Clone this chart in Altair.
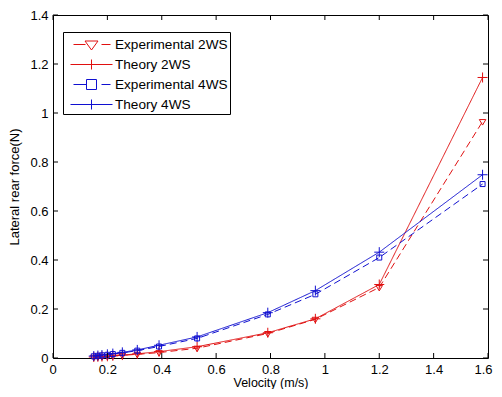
import altair as alt
import pandas as pd

# ---------------- data ----------------
velocity = [0.15, 0.165, 0.18, 0.20, 0.22, 0.255, 0.31, 0.39, 0.53, 0.79, 0.965, 1.20, 1.58]
exp_2ws = [0.003, 0.004, 0.005, 0.006, 0.008, 0.011, 0.015, 0.022, 0.040, 0.100, 0.158, 0.288, 0.965]
theory_2ws = [0.004, 0.005, 0.006, 0.007, 0.009, 0.012, 0.017, 0.026, 0.046, 0.103, 0.160, 0.300, 1.145]
exp_4ws = [0.007, 0.009, 0.011, 0.013, 0.016, 0.021, 0.030, 0.047, 0.080, 0.178, 0.260, 0.410, 0.710]
theory_4ws = [0.008, 0.010, 0.012, 0.015, 0.018, 0.023, 0.033, 0.052, 0.086, 0.185, 0.275, 0.432, 0.748]

series_names = ["Experimental 2WS", "Theory 2WS", "Experimental 4WS", "Theory 4WS"]
x_ticks = [0, 0.2, 0.4, 0.6, 0.8, 1.0, 1.2, 1.4, 1.6]
y_ticks = [0, 0.2, 0.4, 0.6, 0.8, 1.0, 1.2, 1.4]

# ---------------- styles ----------------
RED = "#e01010"
BLUE = "#1010d0"
colors = [RED, RED, BLUE, BLUE]
dashes = [[7, 4], [1, 0], [7, 4], [1, 0]]
TRI = "M-0.65,-0.4L0.65,-0.4L0,0.7Z"
PLUS = "M-1,0L1,0M0,-1L0,1"
SQ = "M-0.5,-0.5L0.5,-0.5L0.5,0.5L-0.5,0.5Z"
marker_paths = [TRI, PLUS, SQ, PLUS]
# legend symbols: line sample + marker (units of half the symbol size)
leg_tri = "M-1.8,0L-0.6,0M1.0,0L1.9,0M-0.65,-0.35L0.65,-0.35L0,0.55Z"
leg_plus = "M-2.1,0L2.1,0M0,-0.5L0,0.5"
leg_sq = "M-1.8,0L-0.5,0M1.0,0L1.9,0M-0.5,-0.5L0.5,-0.5L0.5,0.5L-0.5,0.5Z"
legend_paths = [leg_tri, leg_plus, leg_sq, leg_plus]

FONT = "Liberation Sans"

rows = []
for name, vals in zip(series_names, [exp_2ws, theory_2ws, exp_4ws, theory_4ws]):
    for v, f in zip(velocity, vals):
        rows.append({"v": v, "f": f, "series": name})
df = pd.DataFrame(rows)

xt = pd.DataFrame({"t": x_ticks})
yt = pd.DataFrame({"t": y_ticks})

x_scale = alt.Scale(domain=[0, 1.6], nice=False, zero=False)
y_scale = alt.Scale(domain=[0, 1.4], nice=False, zero=False)
color_scale = alt.Scale(domain=series_names, range=colors)

x_axis = alt.Axis(values=x_ticks, title="Velocity (m/s)", ticks=False, domain=False,
                  grid=False, labelFont=FONT, labelFontSize=13, labelColor="#000",
                  titleFont=FONT, titleFontSize=12.5, titleFontWeight="normal",
                  titleColor="#000", labelPadding=5, titlePadding=0,
                  labelExpr="format(datum.value, '.1~f')", labelFlush=True,
                  labelFlushOffset=4)
y_axis = alt.Axis(values=y_ticks, title="Lateral rear force(N)", ticks=False, domain=False,
                  grid=False, labelFont=FONT, labelFontSize=13, labelColor="#000",
                  titleFont=FONT, titleFontSize=13, titleFontWeight="normal",
                  titleColor="#000", labelPadding=5, titlePadding=8,
                  labelExpr="format(datum.value, '.1~f')", labelFlush=False)

X = alt.X("v:Q", scale=x_scale, axis=x_axis)
Y = alt.Y("f:Q", scale=y_scale, axis=y_axis)

base = alt.Chart(df)

lines = base.mark_line(strokeWidth=1, clip=True).encode(
    x=X, y=Y,
    color=alt.Color("series:N", scale=color_scale, legend=None),
    strokeDash=alt.StrokeDash("series:N", scale=alt.Scale(domain=series_names, range=dashes), legend=None),
    detail="series:N",
)

points = base.mark_point(filled=False, strokeWidth=1, size=100, opacity=1).encode(
    x=X, y=Y,
    color=alt.Color("series:N", scale=color_scale, legend=None),
    shape=alt.Shape("series:N", scale=alt.Scale(domain=series_names, range=marker_paths), legend=None),
)

leg = alt.Legend(orient="none", legendX=10, legendY=17, title=None, strokeColor="black",
                 fillColor="white", padding=2, symbolSize=400, symbolStrokeWidth=1,
                 labelFont=FONT, labelFontSize=13.6, labelColor="#000", symbolOffset=16,
                 labelOffset=13, rowPadding=2, labelLimit=0)

legend_layer = base.transform_filter("datum.v < 0").mark_point(filled=False, strokeWidth=1, opacity=1).encode(
    x=X, y=Y,
    color=alt.Color("series:N", scale=color_scale, legend=leg),
    shape=alt.Shape("series:N", scale=alt.Scale(domain=series_names, range=legend_paths), legend=leg),
)

# inward MATLAB-style ticks on all four sides
tk = "#000"
XT = alt.X("t:Q", scale=x_scale, axis=x_axis)
YT = alt.Y("t:Q", scale=y_scale, axis=y_axis)
bottom_ticks = alt.Chart(xt).mark_rule(color=tk, strokeWidth=1).encode(
    x=XT, y=alt.value(343), y2=alt.value(338))
top_ticks = alt.Chart(xt).mark_rule(color=tk, strokeWidth=1).encode(
    x=XT, y=alt.value(0), y2=alt.value(5))
left_ticks = alt.Chart(yt).mark_rule(color=tk, strokeWidth=1).encode(
    y=YT, x=alt.value(0), x2=alt.value(5))
right_ticks = alt.Chart(yt).mark_rule(color=tk, strokeWidth=1).encode(
    y=YT, x=alt.value(435), x2=alt.value(430))

chart = alt.layer(
    lines, points, legend_layer, bottom_ticks, top_ticks, left_ticks, right_ticks
).resolve_scale(
    color="independent", shape="independent", strokeDash="independent"
).properties(
    width=435, height=343,
    padding={"left": 45, "top": 7, "right": 6, "bottom": 31},
    autosize=alt.AutoSizeParams(type="none"),
    background="white",
).configure_view(stroke="black", strokeWidth=1)

chart.save("out.html", embed_options={"renderer": "svg", "actions": False})
